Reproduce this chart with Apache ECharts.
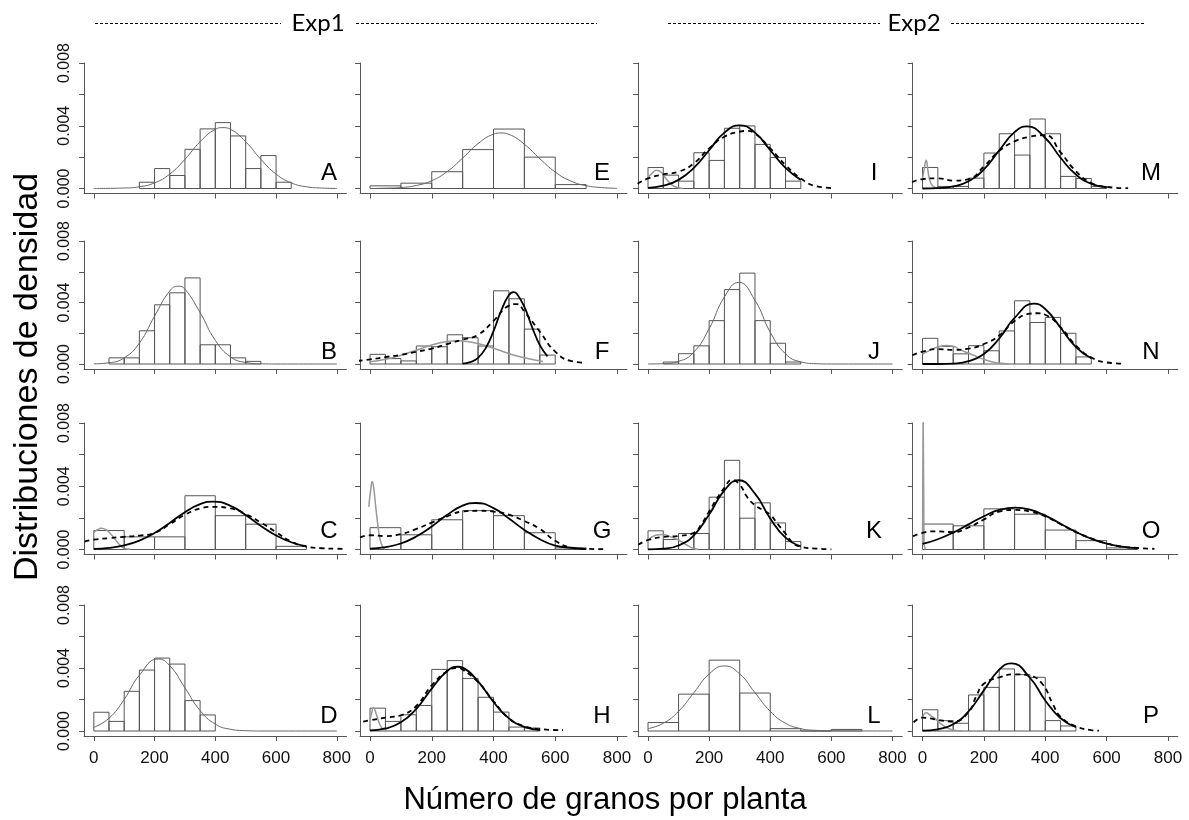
<!DOCTYPE html>
<html><head><meta charset="utf-8">
<script src="https://cdn.jsdelivr.net/npm/echarts@6/dist/echarts.min.js"></script>
<style>html,body{margin:0;padding:0;background:#fff}#c{width:1189px;height:820px}</style>
</head><body><div id="c"></div>
<script>
// ---------------- DATA ----------------
const xTicks = [0, 200, 400, 600, 800];
const yTicks = [0, 0.002, 0.004, 0.006, 0.008];
const yTickLabels = [0, 0.004, 0.008];
const panelLetters = ['A','B','C','D','E','F','G','H','I','J','K','L','M','N','O','P'];

// histogram: [first bin start, bin width] and densities
const binA = [150, 50];
const histA = [0.0004, 0.00127, 0.00083, 0.0025, 0.0038, 0.0042, 0.00335, 0.00127, 0.0021, 0.0004];
const fitA = [[0,0],[100,0.00003],[150,0.00011],[200,0.00036],[250,0.00092],[300,0.00186],[350,0.00298],[400,0.00377],[425,0.00388],[450,0.00377],[500,0.00298],[550,0.00186],[600,0.00092],[650,0.00036],[700,0.00011],[750,0.00003],[800,0]];

const binB = [50, 50];
const histB = [0.0004, 0.0004, 0.00216, 0.00385, 0.00463, 0.0056, 0.00125, 0.00125, 0.0004, 0.00017];
const fitB = [[0,0.00001],[50,0.00008],[100,0.0004],[150,0.00136],[200,0.00311],[250,0.00475],[278,0.00506],[300,0.00487],[350,0.00334],[400,0.00154],[450,0.00047],[500,0.0001],[550,0.00001],[600,0],[800,0]];

const binC = [0, 100];
const histC = [0.0012, 0.0008, 0.0008, 0.0034, 0.00214, 0.0016, 0.0002];
const grayC = [[0,0.00108],[12,0.00125],[25,0.00135],[40,0.00125],[57,0.00095],[70,0.00065],[85,0.0003],[100,0.00008],[120,0.00001]];
const solidC = [[0,0.00004],[50,0.0001],[100,0.00026],[150,0.00056],[200,0.00104],[250,0.00168],[300,0.00236],[350,0.00287],[393,0.00303],[450,0.00276],[500,0.00218],[550,0.00149],[600,0.00089],[650,0.00046],[700,0.0002]];
const dashC = [[-30,0.0005],[0,0.00062],[50,0.00072],[100,0.0008],[150,0.00088],[200,0.00105],[250,0.0016],[300,0.0022],[350,0.0026],[390,0.0027],[450,0.0026],[500,0.00225],[550,0.0017],[600,0.0011],[650,0.0005],[700,0.00018],[750,0.00008],[800,0.00005],[830,0.00004]];

const binD = [0, 50];
const histD = [0.00119, 0.00061, 0.00252, 0.00387, 0.00463, 0.00425, 0.00193, 0.00102];
const fitD = [[0,0.00023],[50,0.00081],[100,0.002],[150,0.00354],[212,0.00457],[250,0.00415],[300,0.00274],[350,0.0013],[400,0.00044],[450,0.00011],[500,0.00002],[550,0],[800,0]];

const binE = [0, 100];
const histE = [0.00017, 0.00034, 0.00107, 0.00248, 0.00379, 0.002, 0.00025];
const fitE = [[0,0],[50,0.00002],[100,0.00006],[150,0.00019],[200,0.0005],[250,0.00108],[300,0.00194],[350,0.00286],[400,0.00346],[424,0.00354],[450,0.00345],[500,0.00282],[550,0.0019],[600,0.00105],[650,0.00048],[700,0.00018],[750,0.00006],[800,0.00001]];

const binF = [0, 50];
const histF = [0.00063, 0.00035, 0.0002, 0.00117, 0.00112, 0.0019, 0.00171, 0.00117, 0.00476, 0.00424, 0.00227, 0.00058];
const grayF = [[0,0.00015],[50,0.00031],[100,0.00057],[150,0.0009],[200,0.00123],[250,0.00146],[284,0.00151],[300,0.0015],[350,0.00133],[400,0.00103],[450,0.00068],[500,0.0004],[560,0.00017]];
const solidF = [[300,0.00003],[325,0.00012],[350,0.0004],[375,0.00104],[400,0.00214],[425,0.00347],[450,0.00448],[465,0.00467],[475,0.00458],[500,0.00372],[525,0.0024],[550,0.00123],[575,0.0005]];
const dashF = [[-40,0.0002],[0,0.0003],[50,0.00045],[100,0.0006],[150,0.0008],[200,0.001],[250,0.0013],[300,0.00158],[350,0.0019],[400,0.0028],[450,0.0038],[475,0.0039],[500,0.0034],[550,0.0021],[600,0.0008],[650,0.0002],[700,0.00008]];

const binG = [0, 100];
const histG = [0.00138, 0.00093, 0.00188, 0.00246, 0.00214, 0.00106, 0.0001];
const grayG = [[-4,0.0027],[3,0.0039],[7,0.0043],[12,0.0039],[18,0.0028],[25,0.0016],[32,0.0007],[40,0.0002],[48,0.00003]];
const solidG = [[0,0.00005],[50,0.00015],[100,0.00038],[150,0.00082],[200,0.00146],[250,0.00219],[300,0.00277],[342,0.00294],[400,0.00262],[450,0.00196],[500,0.00124],[550,0.00065],[600,0.00025],[650,0.00011],[700,0.00003]];
const dashG = [[-32,0.00076],[0,0.0009],[50,0.00085],[100,0.00097],[150,0.0013],[200,0.0017],[250,0.0021],[300,0.0024],[350,0.00245],[400,0.0024],[450,0.0022],[500,0.0018],[550,0.0013],[600,0.00055],[650,0.00013],[700,0.00004],[760,0.00002]];

const binH = [0, 50];
const histH = [0.00145, 0.00061, 0.00103, 0.00162, 0.00391, 0.00447, 0.00334, 0.00214, 0.0012, 0.00025, 0.00019];
const grayH = [[0,0.0007],[5,0.0011],[11,0.0015],[20,0.0011],[30,0.0005],[42,0.00012],[55,0.00001]];
const solidH = [[0,0.00004],[50,0.00016],[100,0.00055],[150,0.00141],[200,0.00269],[250,0.00381],[284,0.00408],[300,0.00402],[350,0.00315],[400,0.00184],[450,0.0008],[500,0.00026],[550,0.00006]];
const dashH = [[-22,0.0006],[0,0.00068],[50,0.00085],[100,0.001],[150,0.0016],[200,0.0029],[250,0.0038],[284,0.004],[300,0.0039],[350,0.0031],[400,0.0019],[450,0.0008],[500,0.0003],[550,0.00012],[625,0.00005]];

const binI = [0, 50];
const histI = [0.00134, 0.00085, 0.00047, 0.00228, 0.00179, 0.00384, 0.00399, 0.00281, 0.00198, 0.00047];
const grayI = [[0,0.0007],[15,0.001],[29,0.00117],[45,0.001],[60,0.0006],[80,0.0002],[100,0.00005],[115,0]];
const solidI = [[0,0.00004],[50,0.00018],[100,0.00055],[150,0.00131],[200,0.00244],[250,0.00356],[300,0.00403],[350,0.00356],[400,0.00244],[450,0.00131],[500,0.00055]];
const dashI = [[-34,0.0003],[0,0.00064],[50,0.0009],[100,0.00107],[150,0.0016],[200,0.00256],[250,0.0033],[300,0.00362],[325,0.00367],[350,0.0035],[400,0.00256],[450,0.0015],[500,0.00064],[550,0.00015],[610,0.00002]];

const binJ = [50, 50];
const histJ = [0.00013, 0.00067, 0.00118, 0.00282, 0.00484, 0.00591, 0.00282, 0.00135, 0.00013];
const fitJ = [[0,0],[50,0.00002],[100,0.00017],[150,0.00078],[200,0.0023],[250,0.00436],[297,0.00531],[350,0.00414],[400,0.00207],[450,0.00066],[500,0.00014],[550,0.00002],[600,0],[800,0]];

const binK = [0, 50];
const histK = [0.00118, 0.00063, 0.00101, 0.00101, 0.00331, 0.00564, 0.00198, 0.00295, 0.00168, 0.0005];
const grayK = [[0,0.0006],[25,0.0009],[46,0.00095],[75,0.0008],[100,0.0006],[125,0.0003],[150,0.00006],[165,0]];
const solidK = [[0,0.00001],[50,0.00005],[100,0.00025],[150,0.0009],[200,0.00221],[250,0.00374],[296,0.00438],[350,0.00353],[400,0.00196],[450,0.00075],[500,0.0002]];
const dashK = [[-32,0.0003],[0,0.0006],[50,0.0008],[100,0.00086],[150,0.00105],[175,0.0016],[200,0.0024],[225,0.0032],[250,0.0039],[275,0.0044],[300,0.0041],[325,0.0033],[350,0.0028],[375,0.0025],[400,0.0022],[425,0.0016],[450,0.001],[475,0.0004],[500,0.00017],[550,0.00006],[600,0.00001]];

const binL = [0, 100];
const histL = [0.00054, 0.00234, 0.0045, 0.00241, 0.00015, 0, 0.0001];
const fitL = [[0,0.00015],[50,0.00049],[100,0.00125],[150,0.00243],[200,0.00362],[250,0.00413],[300,0.00362],[350,0.00243],[400,0.00125],[450,0.00049],[500,0.00015],[550,0.00004],[600,0.00001],[800,0]];

const binM = [0, 50];
const histM = [0.00134, 0.00013, 0.00013, 0.00066, 0.00226, 0.00349, 0.00213, 0.00443, 0.00349, 0.00077, 0.00064, 0.00013];
const grayM = [[0,0.0006],[6,0.0013],[12,0.0018],[18,0.0011],[26,0.0004],[40,0.00006],[60,0]];
const solidM = [[0,0],[50,0.00003],[100,0.00013],[150,0.00046],[200,0.00122],[250,0.00243],[300,0.00359],[341,0.00396],[400,0.00322],[450,0.00196],[500,0.00089],[550,0.0003],[600,0.00008]];
const dashM = [[-34,0.0004],[0,0.0006],[50,0.00065],[100,0.0005],[150,0.0006],[200,0.0014],[250,0.0024],[300,0.003],[350,0.0033],[400,0.0034],[450,0.0023],[500,0.0011],[550,0.00035],[600,0.0001],[670,0.00002]];

const binN = [0, 50];
const histN = [0.00167, 0.00114, 0.00066, 0.00119, 0.00086, 0.00215, 0.00411, 0.0027, 0.00303, 0.002, 0.00046];
const grayN = [[0,0.00064],[25,0.0009],[50,0.0011],[77,0.0012],[100,0.00115],[125,0.0009],[150,0.0007],[175,0.0005],[200,0.0003],[225,0.00015],[250,0.00006],[280,0]];
const solidN = [[0,0],[50,0],[100,0.00003],[150,0.00018],[200,0.00065],[250,0.00166],[300,0.003],[363,0.00393],[400,0.00358],[450,0.00236],[500,0.0011],[550,0.00037]];
const dashN = [[-33,0.00057],[0,0.0008],[50,0.00097],[100,0.00092],[150,0.001],[200,0.0013],[250,0.00185],[300,0.0028],[350,0.00327],[375,0.0033],[400,0.0032],[450,0.0024],[500,0.0012],[550,0.00042],[600,0.0001],[655,0.00002]];

const binO = [0, 100];
const histO = [0.00161, 0.0015, 0.00257, 0.00223, 0.00123, 0.00056, 0.0001];
const grayO = [[0,0.0003],[2,0.009],[5,0.0003],[9,0]];
const solidO = [[0,0.00035],[50,0.00065],[100,0.00107],[150,0.00159],[200,0.0021],[250,0.0025],[302,0.00265],[350,0.00252],[400,0.00214],[450,0.00163],[500,0.00111],[550,0.00068],[600,0.00037],[650,0.00018],[700,0.00008]];
const dashO = [[-31,0.00084],[0,0.00105],[35,0.00115],[100,0.0011],[150,0.0014],[200,0.0019],[250,0.0024],[300,0.0025],[350,0.0024],[400,0.0021],[450,0.0016],[500,0.0011],[550,0.0007],[600,0.00038],[650,0.00018],[700,0.0001],[756,0.00004]];

const binP = [0, 50];
const histP = [0.00135, 0.00066, 0.00049, 0.00229, 0.00277, 0.00394, 0.00358, 0.00341, 0.00066, 0.00032];
const grayP = [[0,0.00085],[12,0.00116],[25,0.001],[40,0.0008],[60,0.00045],[80,0.0002],[100,0.00006],[130,0]];
const solidP = [[0,0.00002],[50,0.00011],[100,0.00043],[150,0.00124],[200,0.00258],[250,0.0039],[289,0.0043],[350,0.00338],[400,0.00194],[450,0.00081],[500,0.00024]];
const dashP = [[-29,0.00055],[0,0.00085],[25,0.0008],[50,0.0007],[100,0.0006],[150,0.0012],[175,0.0022],[200,0.003],[250,0.0034],[300,0.0036],[350,0.0035],[390,0.003],[425,0.0017],[450,0.0009],[500,0.0003],[550,0.00006],[575,0.00002]];

// panel content table (column-major order: A-D col 1, E-H col 2, ...)
const panelData = [
  {bin: binA, hist: histA, fit: fitA},
  {bin: binB, hist: histB, fit: fitB},
  {bin: binC, hist: histC, gray: grayC, solid: solidC, dash: dashC},
  {bin: binD, hist: histD, fit: fitD},
  {bin: binE, hist: histE, fit: fitE},
  {bin: binF, hist: histF, gray: grayF, solid: solidF, dash: dashF},
  {bin: binG, hist: histG, gray: grayG, solid: solidG, dash: dashG},
  {bin: binH, hist: histH, gray: grayH, solid: solidH, dash: dashH},
  {bin: binI, hist: histI, gray: grayI, solid: solidI, dash: dashI},
  {bin: binJ, hist: histJ, fit: fitJ},
  {bin: binK, hist: histK, gray: grayK, solid: solidK, dash: dashK},
  {bin: binL, hist: histL, fit: fitL},
  {bin: binM, hist: histM, gray: grayM, solid: solidM, dash: dashM},
  {bin: binN, hist: histN, gray: grayN, solid: solidN, dash: dashN},
  {bin: binO, hist: histO, gray: grayO, solid: solidO, dash: dashO, spike: true},
  {bin: binP, hist: histP, gray: grayP, solid: solidP, dash: dashP}
];

// ---------------- LAYOUT ----------------
const colX0 = [93.8, 370, 648, 922.5];     // pixel of x = 0
const colX800 = [336.8, 617, 892.5, 1168]; // pixel of x = 800
const rowY0 = [188.5, 364, 549.5, 731];    // pixel of y = 0
const rowY8 = [63, 241, 423, 605];         // pixel of y = 0.008
const letterX = [329, 602, 874, 1151];
const letterY = [173, 352, 531, 716];
const XMIN = -32, XMAX = 832, YMIN = -0.00032, YMAX = 0.008;
const AX = '#555';
const numFont = "'Liberation Sans Narrow','Liberation Sans',Arial,sans-serif";

function renderHist(params, api) {
  const a = api.coord([api.value(0), 0]);
  const b = api.coord([api.value(1), api.value(2)]);
  return {
    type: 'rect',
    shape: {x: a[0], y: b[1], width: b[0] - a[0], height: a[1] - b[1]},
    style: {fill: 'none', stroke: '#555', lineWidth: 1}
  };
}

const grids = [], xAxes = [], yAxes = [], series = [], graphics = [];
panelData.forEach((p, i) => {
  const col = Math.floor(i / 4), row = i % 4;
  const s = (colX800[col] - colX0[col]) / 800;
  const t = (rowY0[row] - rowY8[row]) / YMAX;
  grids.push({left: colX0[col] + XMIN * s, width: (XMAX - XMIN) * s, top: rowY8[row], height: (YMAX - YMIN) * t});
  xAxes.push({
    gridIndex: i, type: 'value', min: XMIN, max: XMAX,
    axisLine: {show: true, onZero: false, lineStyle: {color: AX, width: 1}},
    axisTick: {show: true, customValues: xTicks, length: 5, lineStyle: {color: AX, width: 1}},
    axisLabel: {show: row === 3, customValues: xTicks, margin: 14, color: '#111', fontSize: 17, fontFamily: numFont},
    splitLine: {show: false}
  });
  yAxes.push({
    gridIndex: i, type: 'value', min: YMIN, max: YMAX,
    axisLine: {show: true, onZero: false, lineStyle: {color: AX, width: 1}},
    axisTick: {show: true, customValues: yTicks, length: 5, lineStyle: {color: AX, width: 1}},
    axisLabel: {show: col === 0, customValues: yTickLabels, rotate: 90, margin: 11, color: '#111', fontSize: 16, fontFamily: numFont,
      formatter: v => v.toFixed(3)},
    splitLine: {show: false}
  });
  const bars = p.hist.map((h, k) => [p.bin[0] + k * p.bin[1], p.bin[0] + (k + 1) * p.bin[1], h]);
  series.push({type: 'custom', coordinateSystem: 'cartesian2d', xAxisIndex: i, yAxisIndex: i, renderItem: renderHist,
    data: bars, encode: {x: [0, 1], y: 2}, clip: true, silent: true, z: 2});
  const line = (data, style, z, sm) => ({type: 'line', xAxisIndex: i, yAxisIndex: i, data, symbol: 'none', showSymbol: false,
    smooth: sm, clip: true, silent: true, lineStyle: style, z});
  if (p.fit) series.push(line(p.fit, {color: '#666', width: 1}, 3, 0.5));
  if (p.gray) series.push(line(p.gray, {color: '#999', width: 1.5}, 3, p.spike ? false : 0.5));
  if (p.dash) series.push(line(p.dash, {color: '#000', width: 1.8, type: [5, 4]}, 4, 0.5));
  if (p.solid) series.push(line(p.solid, {color: '#000', width: 1.8}, 5, 0.5));
  graphics.push({type: 'text', x: letterX[col], y: letterY[row], silent: true,
    style: {text: panelLetters[i], font: "24px 'Liberation Sans',Arial,sans-serif", fill: '#000',
      align: 'center', verticalAlign: 'middle', textAlign: 'center', textVerticalAlign: 'middle'}});
});

// headings
const dashStyle = {stroke: '#000', lineWidth: 1, lineDash: [3, 2]};
graphics.push(
  {type: 'line', shape: {x1: 95, y1: 23.5, x2: 281, y2: 23.5}, style: dashStyle, silent: true},
  {type: 'line', shape: {x1: 356, y1: 23.5, x2: 597, y2: 23.5}, style: dashStyle, silent: true},
  {type: 'line', shape: {x1: 668, y1: 23.5, x2: 880, y2: 23.5}, style: dashStyle, silent: true},
  {type: 'line', shape: {x1: 951, y1: 23.5, x2: 1144, y2: 23.5}, style: dashStyle, silent: true},
  {type: 'text', x: 318, y: 23, silent: true, style: {text: 'Exp1', font: "24px Lato,'Open Sans',sans-serif", fill: '#000',
    align: 'center', verticalAlign: 'middle', textAlign: 'center', textVerticalAlign: 'middle'}},
  {type: 'text', x: 914, y: 23, silent: true, style: {text: 'Exp2', font: "24px Lato,'Open Sans',sans-serif", fill: '#000',
    align: 'center', verticalAlign: 'middle', textAlign: 'center', textVerticalAlign: 'middle'}},
  {type: 'text', x: 605, y: 800, silent: true, style: {text: 'Número de granos por planta', font: "31px 'Liberation Sans',Arial,sans-serif", fill: '#000',
    align: 'center', verticalAlign: 'middle', textAlign: 'center', textVerticalAlign: 'middle'}},
  {type: 'text', x: 28, y: 377, rotation: Math.PI / 2, silent: true, style: {text: 'Distribuciones de densidad', font: "34px 'Liberation Sans',Arial,sans-serif", fill: '#000',
    align: 'center', verticalAlign: 'middle', textAlign: 'center', textVerticalAlign: 'middle'}}
);

const chart = echarts.init(document.getElementById('c'), null, {renderer: 'canvas'});
chart.setOption({
  animation: false,
  backgroundColor: '#fff',
  grid: grids, xAxis: xAxes, yAxis: yAxes, series, graphic: graphics
});
</script></body></html>
